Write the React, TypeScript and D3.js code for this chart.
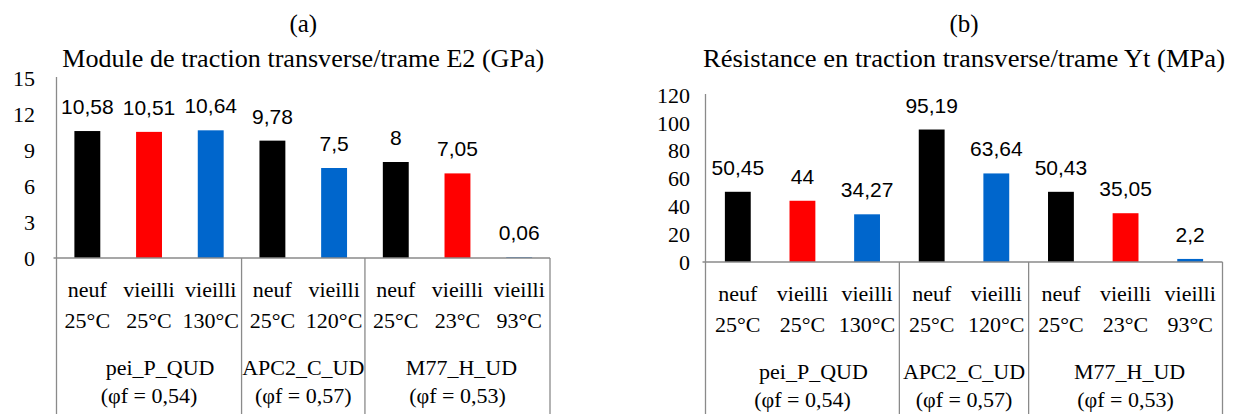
import React from "react";
import * as d3 from "d3";

// ---------- data ----------
const categoriesTop = ["neuf", "vieilli", "vieilli", "neuf", "vieilli", "neuf", "vieilli", "vieilli"];
const categoriesBottom = ["25°C", "25°C", "130°C", "25°C", "120°C", "25°C", "23°C", "93°C"];
const groupNames = ["pei_P_QUD", "APC2_C_UD", "M77_H_UD"];
const groupPhi = ["(φf = 0,54)", "(φf = 0,57)", "(φf = 0,53)"];
const groupSizes = [3, 2, 3];
const barColors = ["#000000", "#ff0000", "#0066cc", "#000000", "#0066cc", "#000000", "#ff0000", "#0066cc"];

const modulusE2 = [10.58, 10.51, 10.64, 9.78, 7.5, 8, 7.05, 0.06];
const modulusTicks = [0, 3, 6, 9, 12, 15];
const strengthYt = [50.45, 44, 34.27, 95.19, 63.64, 50.43, 35.05, 2.2];
const strengthTicks = [0, 20, 40, 60, 80, 100, 120];

const letterA = "(a)";
const titleA = "Module de traction transverse/trame E2 (GPa)";
const letterB = "(b)";
const titleB = "Résistance en traction transverse/trame Yt (MPa)";

// ---------- styles ----------
const SERIF = "'Liberation Serif', 'Times New Roman', serif";
const SANS = "'Liberation Sans', Arial, sans-serif";
const GRID = "#8a8a8a";

type PanelCfg = {
  values: number[];
  ticks: number[];
  letter: string;
  title: string;
  titleWidth: number;
  x0: number;
  x1: number;
  y0: number;
  yTop: number;
  tickRight: number;
  barFrac: number;
  dy: number;
  groupOffsets: number[];
};

const fmt = (v: number) => String(v).replace(".", ",");

function Panel({ cfg }: { cfg: PanelCfg }) {
  const idx = cfg.values.map((_, i) => String(i));
  const x = d3.scaleBand<string>().domain(idx).range([cfg.x0, cfg.x1]).padding(0);
  const maxT = cfg.ticks[cfg.ticks.length - 1];
  const y = d3.scaleLinear().domain([0, maxT]).range([cfg.y0, cfg.yTop]);
  const step = x.step();
  const bw = step * cfg.barFrac;
  const cx = (cfg.x0 + cfg.x1) / 2;
  const bottom = 414;

  // group boundaries
  const bounds: number[] = [];
  let acc = 0;
  groupSizes.forEach((s) => {
    bounds.push(acc);
    acc += s;
  });

  return (
    <g>
      <text x={cx} y={32} textAnchor="middle" fontFamily={SERIF} fontSize={25}>
        {cfg.letter}
      </text>
      <text
        x={cx}
        y={66.5}
        textAnchor="middle"
        fontFamily={SERIF}
        fontSize={25}
        textLength={cfg.titleWidth}
        lengthAdjust="spacingAndGlyphs"
      >
        {cfg.title}
      </text>

      {/* y tick labels */}
      {cfg.ticks.map((t) => (
        <text
          key={t}
          x={cfg.tickRight}
          y={y(t)}
          dy="0.35em"
          textAnchor="end"
          fontFamily={SERIF}
          fontSize={22}
        >
          {t}
        </text>
      ))}

      {/* bars */}
      {cfg.values.map((v, i) => {
        const c = (x(String(i)) as number) + step / 2;
        return (
          <rect
            key={i}
            x={c - bw / 2}
            y={y(v)}
            width={bw}
            height={cfg.y0 - y(v)}
            fill={barColors[i]}
          />
        );
      })}

      {/* value labels */}
      {cfg.values.map((v, i) => {
        const c = (x(String(i)) as number) + step / 2;
        return (
          <text
            key={i}
            x={c}
            y={y(v) - 17}
            textAnchor="middle"
            fontFamily={SANS}
            fontSize={21}
          >
            {fmt(v)}
          </text>
        );
      })}

      {/* axes lines */}
      <line x1={cfg.x0} x2={cfg.x0} y1={cfg.yTop - 1} y2={bottom} stroke={GRID} strokeWidth={1.3} />
      <line x1={cfg.x0 - 3} x2={cfg.x1} y1={cfg.y0} y2={cfg.y0} stroke={GRID} strokeWidth={1.3} />
      {bounds.slice(1).map((b) => (
        <line
          key={b}
          x1={x(String(b)) as number}
          x2={x(String(b)) as number}
          y1={cfg.y0}
          y2={bottom}
          stroke={GRID}
          strokeWidth={1.3}
        />
      ))}
      <line x1={cfg.x1} x2={cfg.x1} y1={cfg.y0} y2={bottom} stroke={GRID} strokeWidth={1.3} />

      {/* category labels */}
      {cfg.values.map((_, i) => {
        const c = (x(String(i)) as number) + step / 2;
        return (
          <g key={i} fontFamily={SERIF} fontSize={22} textAnchor="middle">
            <text x={c} y={297 + cfg.dy}>{categoriesTop[i]}</text>
            <text x={c} y={328 + cfg.dy}>{categoriesBottom[i]}</text>
          </g>
        );
      })}

      {/* group labels */}
      {groupNames.map((g, gi) => {
        const start = x(String(bounds[gi])) as number;
        const end = start + groupSizes[gi] * step;
        const gc = (start + end) / 2;
        return (
          <g key={g} fontFamily={SERIF} fontSize={22} textAnchor="middle">
            <text x={gc + cfg.groupOffsets[gi]} y={375 + cfg.dy}>{g}</text>
            <text x={gc} y={403 + cfg.dy}>{groupPhi[gi]}</text>
          </g>
        );
      })}
    </g>
  );
}

const panelA: PanelCfg = {
  values: modulusE2,
  ticks: modulusTicks,
  letter: letterA,
  title: titleA,
  titleWidth: 482,
  x0: 56.5,
  x1: 550,
  y0: 258,
  yTop: 78,
  tickRight: 35,
  barFrac: 0.42,
  dy: 0,
  groupOffsets: [11, 0, 4],
};

const panelB: PanelCfg = {
  values: strengthYt,
  ticks: strengthTicks,
  letter: letterB,
  title: titleB,
  titleWidth: 522,
  x0: 705.5,
  x1: 1222.5,
  y0: 262,
  yTop: 95,
  tickRight: 690,
  barFrac: 0.4,
  dy: 4,
  groupOffsets: [11, 0, 4],
};

export default function App() {
  return (
    <svg
      width={1235}
      height={414}
      style={{ position: "absolute", left: 0, top: 0, background: "#fff" }}
    >
      <rect width={1235} height={414} fill="#fff" />
      <Panel cfg={panelA} />
      <Panel cfg={panelB} />
    </svg>
  );
}
